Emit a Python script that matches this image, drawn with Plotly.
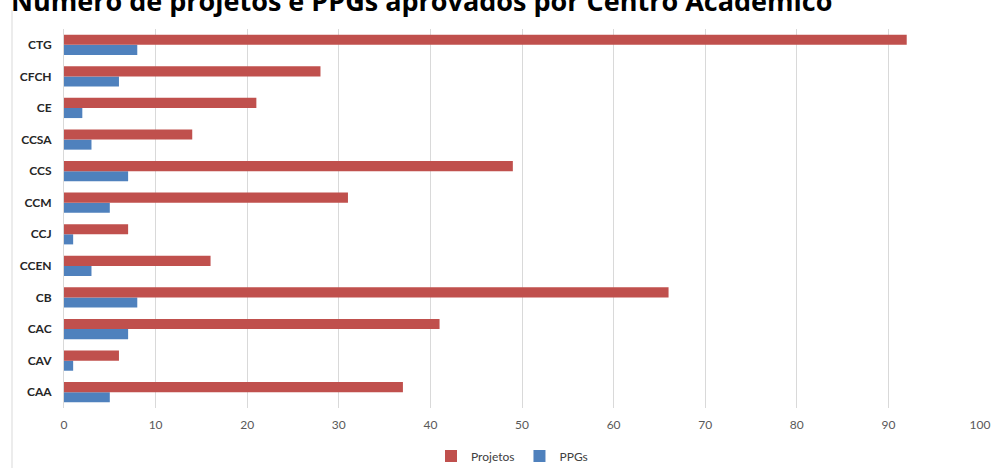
import plotly.graph_objects as go

categories = ["CAA", "CAV", "CAC", "CB", "CCEN", "CCJ", "CCM", "CCS", "CCSA", "CE", "CFCH", "CTG"]
projetos = [37, 6, 41, 66, 16, 7, 31, 49, 14, 21, 28, 92]
ppgs = [5, 1, 7, 8, 3, 1, 5, 7, 3, 2, 6, 8]
x_ticks = [0, 10, 20, 30, 40, 50, 60, 70, 80, 90, 100]
title_text = "Número de projetos e PPGs aprovados por Centro Acadêmico"

W, H = 993, 468
L, R, T, B = 64, 13, 29, 60
PW, PH = W - L - R, H - T - B

fig = go.Figure()
fig.add_trace(go.Bar(
    y=categories, x=ppgs, orientation="h", name="PPGs",
    marker=dict(color="#4F81BD", line=dict(width=0)), legendrank=2,
))
fig.add_trace(go.Bar(
    y=categories, x=projetos, orientation="h", name="Projetos",
    marker=dict(color="#C0504D", line=dict(width=0)), legendrank=1,
))

fig.update_layout(
    width=W, height=H,
    margin=dict(l=L, r=R, t=T, b=B, autoexpand=False),
    paper_bgcolor="white", plot_bgcolor="white",
    barmode="group", bargap=0.36, bargroupgap=0.0,
    font=dict(family="Lato, Open Sans, sans-serif", color="#595959"),
    title=dict(
        text=title_text, xref="container", yref="container",
        x=11 / W, xanchor="left", y=1 - 11 / H, yanchor="bottom",
        font=dict(size=27, color="#000000", family="Open Sans, sans-serif", weight="bold"),
    ),
    showlegend=True,
    legend=dict(
        orientation="h", xref="paper", yref="container",
        x=(512 - L) / PW, xanchor="center", y=1 - 456 / H, yanchor="middle",
        font=dict(size=12, color="#404040"), itemwidth=30, traceorder="normal",
        bgcolor="rgba(0,0,0,0)",
    ),
    xaxis=dict(
        range=[0, 100], tickvals=x_ticks, showgrid=True, gridcolor="#D9D9D9", gridwidth=1,
        zeroline=False, showline=False, ticks="", ticklabelstandoff=8, automargin=False,
        tickfont=dict(size=12, color="#595959"), fixedrange=True,
    ),
    yaxis=dict(
        showgrid=False, showline=True, linecolor="#D9D9D9", linewidth=1,
        ticks="", ticklabelstandoff=9, automargin=False,
        tickfont=dict(size=12, color="#262626", weight="bold"),
    ),
    shapes=[dict(
        type="line", xref="paper", yref="paper",
        x0=(12 - L) / PW, x1=(12 - L) / PW,
        y0=-B / PH, y1=1 + (T - 10) / PH,
        line=dict(color="#D9D9D9", width=1),
    )],
)

fig.write_html(
    "out.html",
    config={"displayModeBar": False},
    post_script="document.body.style.margin='0';document.body.style.overflow='hidden';",
)
